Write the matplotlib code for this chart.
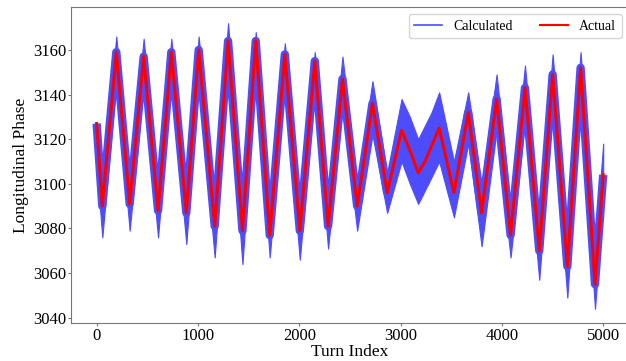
import matplotlib
matplotlib.use("Agg")
import matplotlib.pyplot as plt
from matplotlib.lines import Line2D

plt.rcParams['font.family'] = ['Liberation Serif', 'DejaVu Serif']

# Turn indices of read-off extrema / key points
turns = [0, 56, 194, 326, 464, 606, 737, 885, 1007, 1165, 1297, 1439, 1570, 1708,
         1857, 2005, 2153, 2284, 2426, 2571, 2722, 2867, 3009, 3091, 3173, 3239,
         3305, 3380, 3526, 3667, 3799, 3947, 4085, 4227, 4368, 4500, 4645, 4776,
         4918, 4999]
# Actual phase (red)
actual = [3127, 3090, 3159, 3091, 3157, 3088, 3159, 3087, 3160, 3081, 3164, 3079,
          3164, 3077, 3158, 3079, 3155, 3081, 3147, 3090, 3136, 3096, 3124, 3115,
          3105, 3110, 3117, 3125, 3096, 3132, 3087, 3138, 3077, 3143, 3070, 3149,
          3063, 3152, 3055, 3104]
# Calculated phase envelope (blue), upper and lower extent
calc_upper = [3125, 3100, 3166, 3101, 3165, 3098, 3165, 3097, 3166, 3092, 3172, 3090,
              3168, 3090, 3163, 3092, 3159, 3092, 3157, 3100, 3146, 3105, 3138, 3130,
              3120, 3126, 3132, 3141, 3110, 3141, 3100, 3149, 3090, 3153, 3083, 3158,
              3078, 3159, 3070, 3118]
calc_lower = [3108, 3076, 3146, 3079, 3144, 3076, 3146, 3073, 3146, 3067, 3150, 3064,
              3150, 3067, 3145, 3066, 3142, 3071, 3134, 3079, 3122, 3087, 3110, 3100,
              3091, 3097, 3103, 3110, 3085, 3118, 3072, 3124, 3067, 3128, 3057, 3134,
              3049, 3138, 3044, 3092]

blue_c = '#4d4dff'

fig = plt.figure(figsize=(6.26, 3.61), dpi=100)
ax = fig.add_axes([0.1139, 0.1044, 0.8903, 0.8754])

ax.fill_between(turns, calc_lower, calc_upper, color=blue_c, linewidth=0.8)
ax.plot(turns, actual, color=blue_c, linewidth=6, solid_joinstyle='round',
        solid_capstyle='butt')
ax.plot(turns, actual, color='red', linewidth=2.2)

ax.set_xlim(-250, 5250)
ax.set_ylim(3037.5, 3179.1)
ax.set_yticks([3040, 3060, 3080, 3100, 3120, 3140, 3160])
ax.set_xticks([0, 1000, 2000, 3000, 4000, 5000])
ax.tick_params(labelsize=12, length=2.2, pad=1.5, color='#777777')
ax.set_xlabel('Turn Index', fontsize=12.5, labelpad=0)
ax.set_ylabel('Longitudinal Phase', fontsize=12.5, labelpad=3)
for s in ax.spines.values():
    s.set_color('#777777')

handles = [Line2D([], [], color=blue_c, lw=1.2),
           Line2D([], [], color='red', lw=1.5)]
ax.legend(handles, ['Calculated', 'Actual'], loc='upper right', ncol=2,
          fontsize=10)

fig.savefig('out.png', dpi=100)
